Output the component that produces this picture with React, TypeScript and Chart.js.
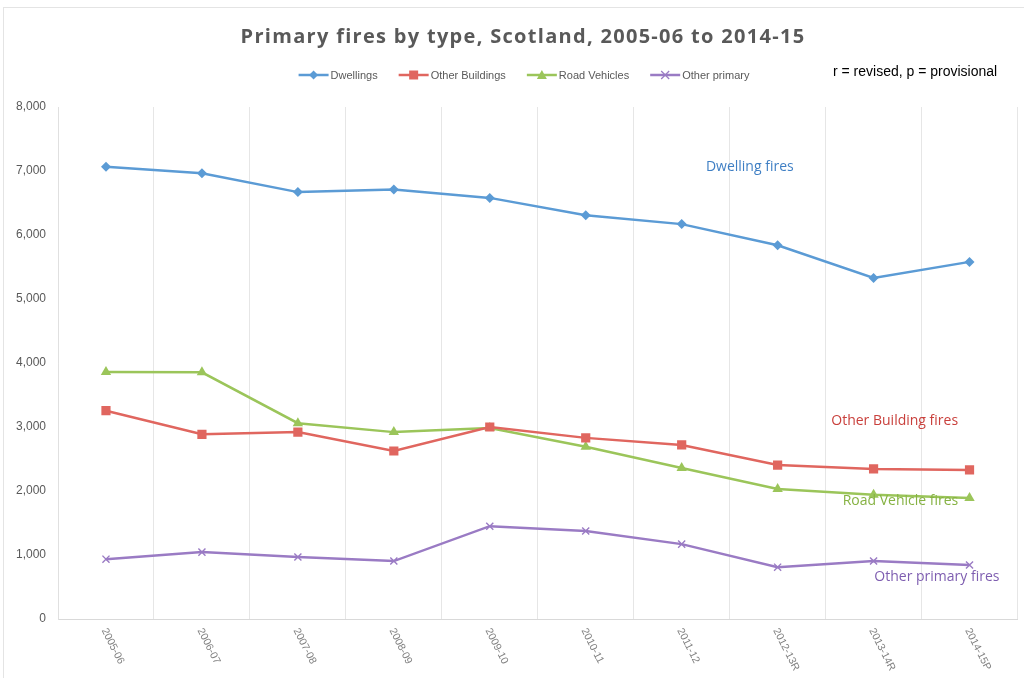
import React, { useEffect, useRef } from "react";
import { Chart, registerables } from "chart.js";

Chart.register(...registerables);

const titleText = "Primary fires by type, Scotland, 2005-06 to 2014-15";
const noteText = "r = revised, p = provisional";

const categories = [
  "2005-06", "2006-07", "2007-08", "2008-09", "2009-10",
  "2010-11", "2011-12", "2012-13R", "2013-14R", "2014-15P",
];

const seriesNames = ["Dwellings", "Other Buildings", "Road Vehicles", "Other primary"];

const dwellings = [7065, 6965, 6670, 6710, 6580, 6310, 6170, 5840, 5330, 5580];
const otherBuildings = [3255, 2886, 2920, 2625, 3000, 2830, 2720, 2405, 2345, 2330];
const roadVehicles = [3860, 3855, 3060, 2920, 2985, 2690, 2360, 2030, 1940, 1890];
const otherPrimary = [935, 1045, 970, 905, 1450, 1375, 1170, 810, 905, 845];

const yTickValues = [0, 1000, 2000, 3000, 4000, 5000, 6000, 7000, 8000];

const annotationTexts = ["Dwelling fires", "Other Building fires", "Road Vehicle fires", "Other primary fires"];
const annotationAtCategory = [6.71, 8.22, 8.28, 8.66];
const annotationAtValue = [7060, 3095, 1845, 655];

const lineColors = ["#5B9BD5", "#E0665F", "#9BC55A", "#9A7BC4"];
const textColors = ["#3F7FC4", "#C9403C", "#86B243", "#7E5DB0"];
const pointStyles = ["rectRot", "rect", "triangle", "crossRot"];
const pointRadii = [5, 6.5, 6, 5];

function drawMarker(ctx: CanvasRenderingContext2D, style: string, x: number, y: number, color: string) {
  ctx.save();
  ctx.fillStyle = color;
  ctx.strokeStyle = color;
  ctx.beginPath();
  if (style === "rectRot") {
    ctx.moveTo(x, y - 4.5); ctx.lineTo(x + 4.5, y); ctx.lineTo(x, y + 4.5); ctx.lineTo(x - 4.5, y); ctx.closePath(); ctx.fill();
  } else if (style === "rect") {
    ctx.rect(x - 4.5, y - 4.5, 9, 9); ctx.fill();
  } else if (style === "triangle") {
    ctx.moveTo(x, y - 5); ctx.lineTo(x + 5, y + 4); ctx.lineTo(x - 5, y + 4); ctx.closePath(); ctx.fill();
  } else {
    ctx.lineWidth = 1.3;
    ctx.moveTo(x - 4, y - 4); ctx.lineTo(x + 4, y + 4); ctx.moveTo(x + 4, y - 4); ctx.lineTo(x - 4, y + 4); ctx.stroke();
  }
  ctx.restore();
}

const overlayPlugin = {
  id: "overlay",
  afterDraw(chart: any) {
    const ctx: CanvasRenderingContext2D = chart.ctx;
    const xs = chart.scales.x;
    const ys = chart.scales.y;
    ctx.save();

    // outer frame
    ctx.strokeStyle = "#e4e4e4";
    ctx.lineWidth = 1;
    ctx.strokeRect(3.5, 7.5, 1040, 700);

    // title
    ctx.fillStyle = "#595959";
    ctx.textAlign = "center";
    ctx.textBaseline = "middle";
    ctx.font = 'bold 20px "Open Sans"';
    (ctx as any).letterSpacing = "1.3px";
    ctx.fillText(titleText, 523, 37);
    (ctx as any).letterSpacing = "0px";

    // legend
    ctx.font = '11px "Liberation Sans Narrow", "Liberation Sans"';
    ctx.textAlign = "left";
    const widths = seriesNames.map((n) => ctx.measureText(n).width);
    const lineLen = 30;
    const gap = 21;
    const total = widths.reduce((a, w) => a + lineLen + 2 + w, 0) + gap * (seriesNames.length - 1);
    let lx = 524 - total / 2;
    const ly = 75;
    seriesNames.forEach((n, i) => {
      ctx.strokeStyle = lineColors[i];
      ctx.lineWidth = 2.5;
      ctx.beginPath();
      ctx.moveTo(lx, ly);
      ctx.lineTo(lx + lineLen, ly);
      ctx.stroke();
      drawMarker(ctx, pointStyles[i], lx + lineLen / 2, ly, lineColors[i]);
      ctx.fillStyle = "#595959";
      ctx.fillText(n, lx + lineLen + 2, ly + 1);
      lx += lineLen + 2 + widths[i] + gap;
    });

    // note
    ctx.fillStyle = "#000000";
    ctx.font = '14px "Liberation Sans"';
    ctx.textAlign = "left";
    ctx.fillText(noteText, 833, 72);

    // series annotations
    ctx.font = '14px "Open Sans"';
    ctx.textAlign = "center";
    annotationTexts.forEach((t, i) => {
      const px = xs.getPixelForValue(annotationAtCategory[i]);
      const py = ys.getPixelForValue(annotationAtValue[i]);
      ctx.fillStyle = textColors[i];
      ctx.fillText(t, px, py);
    });

    // rotated x labels
    ctx.font = '10.5px "Liberation Sans"';
    ctx.fillStyle = "#7f7f7f";
    ctx.textAlign = "left";
    ctx.textBaseline = "middle";
    categories.forEach((c, i) => {
      const px = xs.getPixelForValue(i);
      ctx.save();
      ctx.translate(px - 2, ys.bottom + 10);
      ctx.rotate((63 * Math.PI) / 180);
      ctx.fillText(c, 0, 0);
      ctx.restore();
    });

    ctx.restore();
  },
};

export default function App() {
  const canvasRef = useRef<HTMLCanvasElement | null>(null);

  useEffect(() => {
    document.body.style.margin = "0";
    const canvas = canvasRef.current;
    if (!canvas) return;
    const seriesData = [dwellings, otherBuildings, roadVehicles, otherPrimary];
    const chart = new Chart(canvas, {
      type: "line",
      data: {
        labels: categories,
        datasets: seriesNames.map((name, i) => ({
          label: name,
          data: seriesData[i],
          borderColor: lineColors[i],
          backgroundColor: lineColors[i],
          borderWidth: 2.5,
          pointStyle: pointStyles[i] as any,
          pointRadius: pointRadii[i],
          pointBorderWidth: pointStyles[i] === "crossRot" ? 1.4 : 0,
          pointBorderColor: lineColors[i],
          pointBackgroundColor: lineColors[i],
          tension: 0,
          fill: false,
        })),
      },
      options: {
        responsive: false,
        animation: false,
        layout: { padding: { top: 107, right: 6, left: 0, bottom: 0 } },
        plugins: {
          legend: { display: false },
          title: { display: false },
          tooltip: { enabled: false },
        },
        scales: {
          x: {
            offset: true,
            grid: { display: true, offset: true, color: "#e6e6e6", lineWidth: 1, drawTicks: false },
            border: { display: true, color: "#d9d9d9" },
            ticks: { display: false },
            afterFit: (scale: any) => { scale.height = 59; },
          },
          y: {
            min: 0,
            max: 8000,
            afterBuildTicks: (scale: any) => { scale.ticks = yTickValues.map((v) => ({ value: v })); },
            grid: { display: false, drawTicks: false },
            border: { display: true, color: "#e0e0e0" },
            ticks: {
              color: "#595959",
              font: { family: '"Liberation Sans"', size: 12 },
              padding: 12,
              callback: (v: any) => Number(v).toLocaleString("en-US"),
            },
            afterFit: (scale: any) => { scale.width = 58; },
          },
        },
      },
      plugins: [overlayPlugin],
    });
    return () => chart.destroy();
  }, []);

  return (
    <div style={{ position: "absolute", left: 0, top: 0, width: 1024, height: 678, background: "#ffffff" }}>
      <canvas ref={canvasRef} width={1024} height={678} style={{ display: "block", width: 1024, height: 678 }} />
    </div>
  );
}
